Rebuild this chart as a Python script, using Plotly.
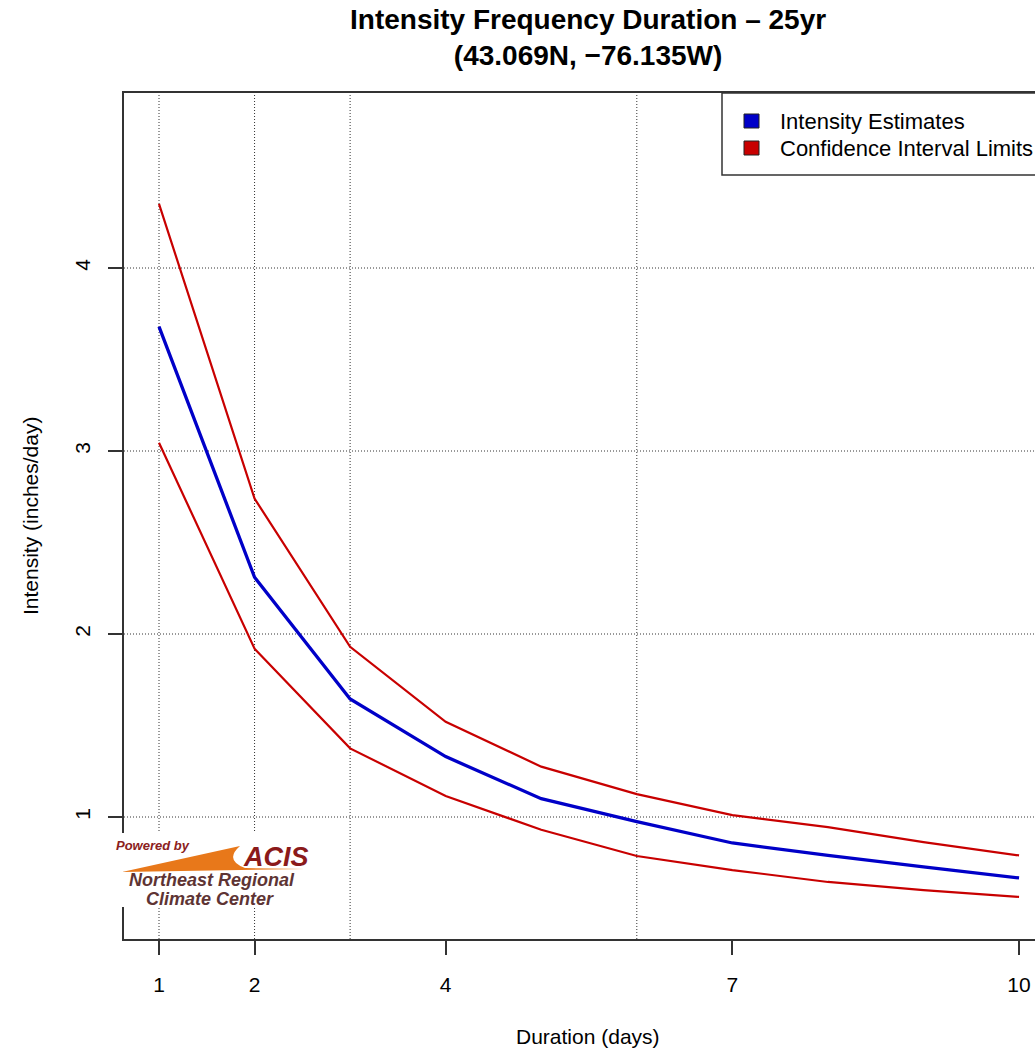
import plotly.graph_objects as go

duration = [1, 2, 3, 4, 5, 6, 7, 8, 9, 10]
estimate = [3.68, 2.31, 1.645, 1.33, 1.10, 0.975, 0.858, 0.79, 0.727, 0.667]
upper = [4.35, 2.74, 1.93, 1.52, 1.275, 1.125, 1.01, 0.945, 0.863, 0.79]
lower = [3.045, 1.92, 1.375, 1.115, 0.93, 0.787, 0.71, 0.645, 0.60, 0.563]

x_ticks = [1, 2, 4, 7, 10]
y_ticks = [1, 2, 3, 4]
x_grid = [1, 2, 3, 6]
y_grid = [1, 2, 3, 4]

BLUE = "#0000c8"
RED = "#c80000"
FONT = "Liberation Sans, Arial, sans-serif"

# plot box in pixels
L, R, T, B = 124, 1035, 93, 939
W, H = 1035, 1049


def px(x):
    return (x - L) / (R - L)


def py(y):
    return (B - y) / (B - T)


fig = go.Figure()
fig.add_trace(go.Scatter(x=duration, y=upper, mode="lines",
                         line=dict(color=RED, width=2.2), showlegend=False))
fig.add_trace(go.Scatter(x=duration, y=lower, mode="lines",
                         line=dict(color=RED, width=2.2), showlegend=False))
fig.add_trace(go.Scatter(x=duration, y=estimate, mode="lines",
                         line=dict(color=BLUE, width=3.3), showlegend=False))

grid = dict(color="#333333", width=1, dash="1px,2px")
for g in x_grid:
    fig.add_shape(type="line", xref="x", yref="paper", x0=g, x1=g, y0=0, y1=1,
                  line=grid, layer="below")
for g in y_grid:
    fig.add_shape(type="line", xref="paper", yref="y", x0=0, x1=1, y0=g, y1=g,
                  line=grid, layer="below")

# legend box
fig.add_shape(type="rect", xref="paper", yref="paper",
              x0=px(722), x1=px(1100), y0=py(175), y1=1,
              line=dict(color="#333333", width=1.5), fillcolor="white")
legend_items = [("Intensity Estimates", BLUE, 121), ("Confidence Interval Limits", RED, 148)]
for name, col, yy in legend_items:
    fig.add_shape(type="rect", xref="paper", yref="paper",
                  x0=px(744), x1=px(759), y0=py(yy + 7), y1=py(yy - 7),
                  line=dict(color="#222222", width=1), fillcolor=col)
    fig.add_annotation(text=name, xref="paper", yref="paper", x=px(778), y=py(yy),
                       xanchor="left", yanchor="middle", showarrow=False,
                       font=dict(family=FONT, size=22, color="black"))

# logo stand-in
fig.add_shape(type="rect", xref="paper", yref="paper",
              x0=px(120), x1=px(312), y0=py(907), y1=py(833),
              line=dict(width=0), fillcolor="white", layer="above")
fig.add_shape(type="path", xref="paper", yref="paper",
              path="M %f,%f L %f,%f Q %f,%f %f,%f L %f,%f Z" % (
                  px(122), py(872), px(240), py(846), px(224), py(860), px(245), py(868),
                  px(305), py(869)),
              line=dict(width=0), fillcolor="#e8781a", layer="above")
fig.add_annotation(text="<b><i>Powered by</i></b>", xref="paper", yref="paper",
                   x=px(114), y=py(845), xanchor="left", yanchor="middle", showarrow=False,
                   font=dict(family=FONT, size=13, color="#8b2020"))
fig.add_annotation(text="<b><i>ACIS</i></b>", xref="paper", yref="paper",
                   x=px(241), y=py(857), xanchor="left", yanchor="middle", showarrow=False,
                   font=dict(family=FONT, size=27, color="#8b1a1a"))
fig.add_annotation(text="<b><i>Northeast Regional</i></b>", xref="paper", yref="paper",
                   x=px(212), y=py(880), xanchor="center", yanchor="middle", showarrow=False,
                   font=dict(family=FONT, size=18, color="#5e3434"))
fig.add_annotation(text="<b><i>Climate Center</i></b>", xref="paper", yref="paper",
                   x=px(210), y=py(899), xanchor="center", yanchor="middle", showarrow=False,
                   font=dict(family=FONT, size=18, color="#5e3434"))

# titles
fig.add_annotation(text="<b>Intensity Frequency Duration \u2013 25yr<br>(43.069N, \u221276.135W)</b>",
                   xref="paper", yref="paper", x=px(588), y=py(38), xanchor="center",
                   yanchor="middle", showarrow=False,
                   font=dict(family=FONT, size=28, color="black"))
fig.add_annotation(text="Duration (days)", xref="paper", yref="paper", x=px(588), y=py(1036),
                   xanchor="center", yanchor="middle", showarrow=False,
                   font=dict(family=FONT, size=21, color="black"))
fig.add_annotation(text="Intensity (inches/day)", xref="paper", yref="paper", x=px(30), y=py(516),
                   xanchor="center", yanchor="middle", showarrow=False, textangle=-90,
                   font=dict(family=FONT, size=21, color="black"))

fig.update_xaxes(range=[1 - 35 / 95.56, 1 + 876 / 95.56], tickvals=x_ticks,
                 showgrid=False, zeroline=False, showline=True, mirror=True,
                 linecolor="#333333", linewidth=1.5, ticks="outside", ticklen=14,
                 tickcolor="#333333", tickwidth=1.5, ticklabelstandoff=12,
                 tickfont=dict(family=FONT, size=21, color="black"))
fig.update_yaxes(range=[4 - 671 / 183, 4 + 175 / 183], tickvals=y_ticks,
                 showgrid=False, zeroline=False, showline=True, mirror=False,
                 linecolor="#333333", linewidth=1.5, ticks="outside", ticklen=14,
                 tickcolor="#333333", tickwidth=1.5, tickangle=-90, ticklabelstandoff=10,
                 tickfont=dict(family=FONT, size=21, color="black"))

fig.update_layout(width=W, height=H, margin=dict(l=L, r=W - R, t=T, b=H - B),
                  plot_bgcolor="white", paper_bgcolor="white", showlegend=False)
fig.write_html("out.html", config={"displayModeBar": False},
               post_script="document.body.style.margin='0px';")
